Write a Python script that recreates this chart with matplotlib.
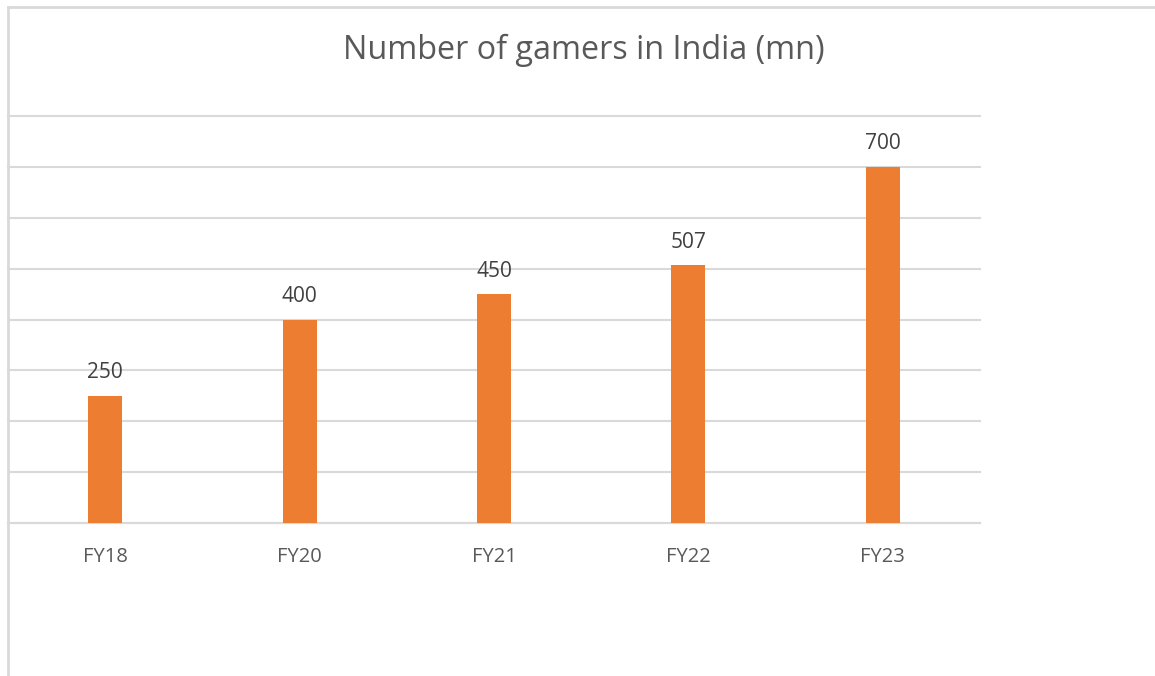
import numpy as np
import matplotlib.pyplot as plt
from matplotlib.lines import Line2D

years = ['FY18', 'FY20', 'FY21', 'FY22', 'FY23']
gamers = [250, 400, 450, 507, 700]

W, H = 1155, 676
text_color = '#595959'
grid_color = '#d9d9d9'
bar_color = '#ed7d31'

plt.rcParams['font.family'] = ['Open Sans', 'DejaVu Sans']

fig = plt.figure(figsize=(W / 100, H / 100), dpi=100)
ax = fig.add_axes([8 / W, 1 - 523 / H, (980 - 8) / W, (523 - 116) / H])

x = np.arange(len(years))
ax.bar(x, gamers, width=0.175, color=bar_color, zorder=3)
for xi, v in zip(x, gamers):
    ax.annotate(f'{v}', (xi, v), xytext=(0, 9), textcoords='offset points',
                ha='center', va='bottom', fontsize=15, color='#404040')

ax.set_xlim(-0.5, len(years) - 0.5)
ax.set_ylim(0, 800)
ax.set_yticks(np.arange(0, 801, 100))
ax.yaxis.grid(True, color=grid_color, linewidth=1.5, zorder=0)
for gl in ax.get_ygridlines():
    gl.set_clip_on(False)
ax.tick_params(axis='y', left=False, labelleft=False)
ax.set_xticks(x)
ax.set_xticklabels(years, fontsize=14.5, color=text_color)
ax.tick_params(axis='x', length=0, pad=17.5)
for s in ['top', 'right', 'left']:
    ax.spines[s].set_visible(False)
ax.spines['bottom'].set_color(grid_color)
ax.spines['bottom'].set_linewidth(1.5)

fig.text(584 / W, 1 - 50 / H, 'Number of gamers in India (mn)', ha='center', va='center',
         fontsize=23.3, color=text_color)

# chart frame edges (left and top)
fig.add_artist(Line2D([7.5 / W, 7.5 / W], [0, 1 - 7 / H], color=grid_color, lw=2,
                      transform=fig.transFigure))
fig.add_artist(Line2D([7.5 / W, 1], [1 - 7 / H, 1 - 7 / H], color=grid_color, lw=2,
                      transform=fig.transFigure))

fig.savefig('out.png', dpi=100)
